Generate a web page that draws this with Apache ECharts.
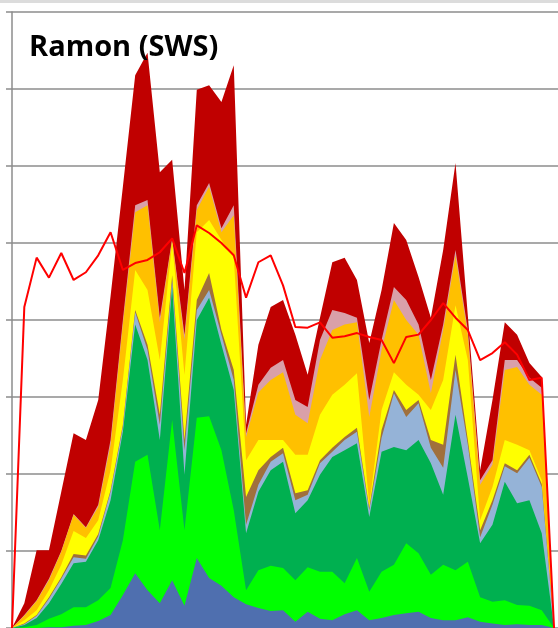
<!DOCTYPE html>
<html>
<head>
<meta charset="utf-8">
<script src="https://cdn.jsdelivr.net/npm/echarts@6/dist/echarts.min.js"></script>
<style>
  html, body { margin: 0; padding: 0; background: #fff; }
  #chart { width: 558px; height: 628px; }
</style>
</head>
<body>
<div id="chart"></div>
<script>
// week index along the x axis
const weeks = [0,1,2,3,4,5,6,7,8,9,10,11,12,13,14,15,16,17,18,19,20,21,22,23,24,25,26,27,28,29,30,31,32,33,34,35,36,37,38,39,40,41,42,43,44];

// top edge of each stacked band (cumulative)
const blueTop = [0,0,0,0.1,0.1,0.3,0.4,0.9,1.7,4.3,7.1,4.9,3.2,6.2,2.9,9.1,6.5,5.5,4.0,3.1,2.6,2.2,2.3,0.8,2.1,1.2,1.0,1.8,2.3,1.0,1.3,1.7,1.9,2.1,1.3,1.0,1.0,1.4,0.8,0.6,0.4,0.5,0.4,0.4,0];
const limeTop = [0,0.1,0.4,1.2,1.8,2.7,2.7,3.6,5.2,11.4,21.6,22.5,12.7,27.0,12.7,27.3,27.5,23.1,15.3,4.9,7.5,8.1,7.8,6.2,7.9,7.3,7.3,5.8,9.1,4.7,7.3,8.2,11.0,9.7,6.9,8.2,7.5,8.6,4.0,3.4,3.6,3.0,2.9,2.3,0];
const greenTop = [0,0.4,1.3,3.2,5.7,8.4,8.6,11.4,16.6,25.5,39.4,34.8,24.4,44.3,19.9,40.0,42.9,36.8,30.9,12.3,17.7,20.5,21.6,14.9,16.6,19.9,22.2,23.1,24.0,14.4,22.9,23.5,23.1,24.4,21.4,17.3,27.7,19.5,11.0,13.4,19.0,16.2,16.6,12.3,0];
const greyBlueTop = [0,0.5,1.6,3.8,6.4,9.2,9.0,11.9,17.7,26.1,41.0,36.1,26.4,45.2,23.1,41.3,43.9,38.1,32.2,13.4,18.6,21.6,22.7,16.6,17.3,21.4,22.9,24.4,25.5,15.3,24.7,30.5,27.4,29.2,23.4,20.8,33.5,23.8,11.8,16.0,21.0,20.1,22.1,18.3,0];
const brownTop = [0,0.6,1.7,4.0,6.6,9.6,9.4,12.2,17.9,26.4,41.3,36.8,27.7,45.8,24.4,42.6,46.1,38.7,33.5,17.0,20.5,22.2,23.4,17.5,17.9,21.8,23.4,24.8,26.0,15.6,25.7,30.9,28.3,29.6,24.4,23.8,35.5,24.4,12.7,16.6,21.4,20.5,22.5,18.7,0];
const yellowTop = [0,1.0,2.3,4.9,8.2,12.6,11.7,14.0,20.5,32.2,46.5,43.9,34.8,50.0,32.9,51.4,53.0,50.4,48.1,21.8,24.4,24.4,24.4,22.5,22.5,27.7,30.3,31.6,33.1,16.0,28.3,33.2,31.6,30.3,28.3,32.2,41.9,34.8,14.0,18.3,24.4,23.8,23.1,19.2,0];
const orangeTop = [0,1.6,3.5,6.2,9.9,14.7,13.0,15.7,23.8,39.4,54.0,54.9,39.7,50.4,37.4,54.3,57.3,51.4,53.6,24.8,30.6,32.2,33.2,27.7,26.6,34.8,38.7,39.4,39.7,27.4,36.1,42.6,40.0,38.1,30.5,38.7,48.4,38.1,18.6,21.2,33.5,33.9,31.6,30.3,0];
const pinkTop = [0,1.7,3.6,6.4,10.0,14.8,13.1,16.0,24.4,40.0,54.9,55.6,40.3,50.6,38.1,54.9,57.8,51.9,54.9,25.3,31.6,33.8,34.8,29.6,28.7,37.4,41.3,40.9,40.3,29.6,37.4,44.3,42.6,39.4,32.2,39.4,49.1,38.7,19.2,21.8,34.8,34.8,32.5,31.2,0];
const darkRedTop = [0,3.2,10.1,10.1,17.7,25.3,24.4,29.6,43.1,57.3,71.8,74.7,59.2,60.8,43.9,69.9,70.5,68.3,73.1,26.4,36.8,41.7,42.6,38.1,32.9,40.3,47.5,48.1,45.2,37.0,43.9,52.6,50.4,45.6,40.3,49.1,60.4,40.6,20.5,29.6,39.7,38.1,34.4,32.6,0];

// the red line drawn over the areas
const redLine = [0,41.7,48.1,45.5,48.7,45.2,46.2,48.4,51.4,46.5,47.4,47.8,48.8,50.6,46.1,52.3,51.3,50.0,48.4,42.9,47.5,48.4,44.5,39.1,39.0,39.7,37.7,37.9,38.3,37.8,37.4,34.4,37.8,38.1,40.0,42.2,40.3,38.7,34.8,35.7,37.1,35.5,32.2,32.5,0];

const yTicks = [0, 10, 20, 30, 40, 50, 60, 70, 80];

// bands painted from the tallest to the lowest, so each sits on the one below
const bands = [
  { name: "darkred", color: "#C00000", values: darkRedTop },
  { name: "pink", color: "#D9A0A9", values: pinkTop },
  { name: "orange", color: "#FFC000", values: orangeTop },
  { name: "yellow", color: "#FFFF00", values: yellowTop },
  { name: "brown", color: "#A0703C", values: brownTop },
  { name: "greyblue", color: "#95B3D7", values: greyBlueTop },
  { name: "green", color: "#00B050", values: greenTop },
  { name: "lime", color: "#00FF00", values: limeTop },
  { name: "blue", color: "#4F6FAF", values: blueTop },
];

function pairs(values) {
  return values.map((v, i) => [weeks[i], v]);
}

let myChart = echarts.init(document.getElementById("chart"));

let series = bands.map((b) => ({
  name: b.name,
  type: "line",
  data: pairs(b.values),
  symbol: "none",
  lineStyle: { width: 0 },
  areaStyle: { color: b.color, opacity: 1 },
  silent: true,
}));

series.push({
  name: "line",
  type: "line",
  data: pairs(redLine),
  symbol: "none",
  z: 5,
  lineStyle: { color: "#FF0000", width: 2 },
  silent: true,
});

let option = {
  animation: false,
  backgroundColor: "#fff",
  title: {
    text: "Ramon (SWS)",
    left: 29,
    top: 33,
    padding: 0,
    textStyle: {
      fontFamily: "Open Sans",
      fontWeight: "bold",
      fontSize: 29,
      color: "#000",
    },
  },
  graphic: [
    {
      type: "rect",
      shape: { x: 0, y: 0, width: 558, height: 3 },
      style: { fill: "#dcdcdc" },
      silent: true,
    },
  ],
  grid: { left: 12, right: 0, top: 12, bottom: 0 },
  xAxis: {
    type: "value",
    min: 0,
    max: 44.32,
    show: false,
  },
  yAxis: {
    type: "value",
    min: yTicks[0],
    max: yTicks[yTicks.length - 1],
    interval: 10,
    axisLine: { show: true, lineStyle: { color: "#8c8c8c", width: 1.5 } },
    axisTick: { show: true, length: 6, lineStyle: { color: "#8c8c8c", width: 1.5 } },
    axisLabel: { show: false },
    splitLine: { lineStyle: { color: "#8c8c8c", width: 1.5 } },
  },
  series: series,
};

myChart.setOption(option);
</script>
</body>
</html>
